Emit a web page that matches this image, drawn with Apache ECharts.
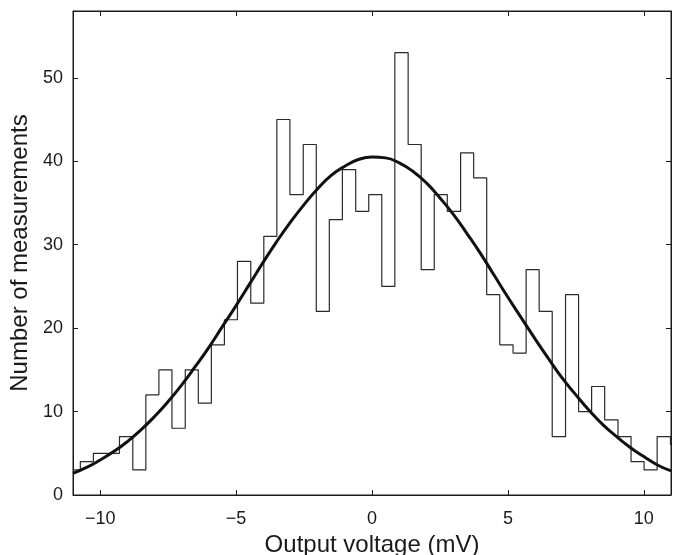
<!DOCTYPE html>
<html>
<head>
<meta charset="utf-8">
<script src="https://cdn.jsdelivr.net/npm/echarts@6/dist/echarts.min.js"></script>
<style>
  html, body { margin: 0; padding: 0; background: #fff; }
  #chart { width: 674px; height: 555px; }
</style>
</head>
<body>
<div id="chart"></div>
<script>
// histogram bin edges (mV, outer bins cut by the axis) and counts per bin
const binEdges = [-11.0, -10.73, -10.25, -9.77, -9.29, -8.80, -8.32, -7.84, -7.36, -6.87,
  -6.39, -5.91, -5.43, -4.95, -4.46, -3.98, -3.50, -3.02, -2.53, -2.05,
  -1.57, -1.09, -0.60, -0.12, 0.36, 0.84, 1.33, 1.81, 2.29, 2.77,
  3.26, 3.74, 4.22, 4.70, 5.19, 5.67, 6.15, 6.63, 7.12, 7.60,
  8.08, 8.56, 9.05, 9.53, 10.01, 10.49, 10.98, 11.0]
const binCounts = [3, 4, 5, 5, 7, 3, 12, 15, 8, 15,
  11, 18, 21, 28, 23, 31, 45, 36, 42, 22,
  33, 39, 34, 36, 25, 53, 42, 27, 36, 34,
  41, 38, 24, 18, 17, 27, 22, 7, 24, 10,
  13, 9, 7, 4, 3, 7, 6]

// fitted curve, every 0.5 mV
const curveX = [-11, -10.5, -10, -9.5, -9, -8.5, -8, -7.5, -7, -6.5, -6, -5.5, -5, -4.5, -4, -3.5,
  -3, -2.5, -2, -1.5, -1, -0.5, 0, 0.5, 1, 1.5, 2, 2.5, 3, 3.5, 4, 4.5, 5, 5.5, 6, 6.5,
  7, 7.5, 8, 8.5, 9, 9.5, 10, 10.5, 11]
const curveY = [2.6, 3.3, 4.2, 5.2, 6.4, 7.8, 9.4, 11.2, 13.2, 15.4, 17.7, 20.2, 22.7, 25.3, 27.9, 30.4,
  32.7, 34.8, 36.7, 38.3, 39.4, 40.2, 40.5, 40.4, 39.8, 38.8, 37.4, 35.6, 33.6, 31.3, 28.9, 26.3, 23.7, 21.2, 18.7, 16.3,
  14.0, 12.0, 10.1, 8.4, 7.0, 5.7, 4.6, 3.6, 2.9]

const xTicks = [-10, -5, 0, 5, 10]
const yTicks = [0, 10, 20, 30, 40, 50]

const histData = binCounts.map((c, i) => [binEdges[i], c])
histData.push([binEdges[binEdges.length - 1], binCounts[binCounts.length - 1]])
const curveData = curveX.map((x, i) => [x, curveY[i]])

const ink = '#1a1a1a'
const font = 'Liberation Sans, Arial, sans-serif'
const minus = v => String(v).replace('-', '\u2212')

const chart = echarts.init(document.getElementById('chart'))

const tickStyle = { inside: true, length: 5, lineStyle: { color: ink, width: 1 } }
const lineStyle = { onZero: false, lineStyle: { color: ink, width: 1 } }

chart.setOption({
  animation: false,
  backgroundColor: '#fff',
  grid: {
    left: 73, right: 3, top: 11, bottom: 60,
    show: true, borderColor: ink, borderWidth: 1,
    outerBoundsMode: 'none'
  },
  xAxis: [
    {
      type: 'value', min: -11, max: 11,
      axisLine: lineStyle,
      axisTick: Object.assign({ customValues: xTicks }, tickStyle),
      axisLabel: { customValues: xTicks, formatter: minus, color: ink, fontSize: 18, fontFamily: font, margin: 15 },
      splitLine: { show: false },
      name: 'Output voltage (mV)', nameLocation: 'middle', nameGap: 38,
      nameTextStyle: { color: ink, fontSize: 24, fontFamily: font }
    },
    {
      type: 'value', min: -11, max: 11, position: 'top',
      axisLine: lineStyle,
      axisTick: Object.assign({ customValues: xTicks }, tickStyle),
      axisLabel: { show: false },
      splitLine: { show: false }
    }
  ],
  yAxis: [
    {
      type: 'value', min: 0, max: 58,
      axisLine: Object.assign({ show: true }, lineStyle),
      axisTick: Object.assign({ show: true, customValues: yTicks }, tickStyle),
      axisLabel: { customValues: yTicks, color: ink, fontSize: 18, fontFamily: font, margin: 10 },
      splitLine: { show: false },
      name: 'Number of measurements', nameLocation: 'middle', nameGap: 40,
      nameTextStyle: { color: ink, fontSize: 24, fontFamily: font }
    },
    {
      type: 'value', min: 0, max: 58, position: 'right',
      axisLine: Object.assign({ show: true }, lineStyle),
      axisTick: Object.assign({ show: true, customValues: yTicks }, tickStyle),
      axisLabel: { show: false },
      splitLine: { show: false }
    }
  ],
  series: [
    {
      name: 'histogram',
      type: 'line',
      step: 'end',
      data: histData,
      showSymbol: false,
      clip: true,
      lineStyle: { color: '#2a2a2a', width: 1.2 }
    },
    {
      name: 'fit',
      type: 'line',
      data: curveData,
      smooth: true,
      showSymbol: false,
      clip: true,
      lineStyle: { color: '#111', width: 3 }
    }
  ]
})
</script>
</body>
</html>
